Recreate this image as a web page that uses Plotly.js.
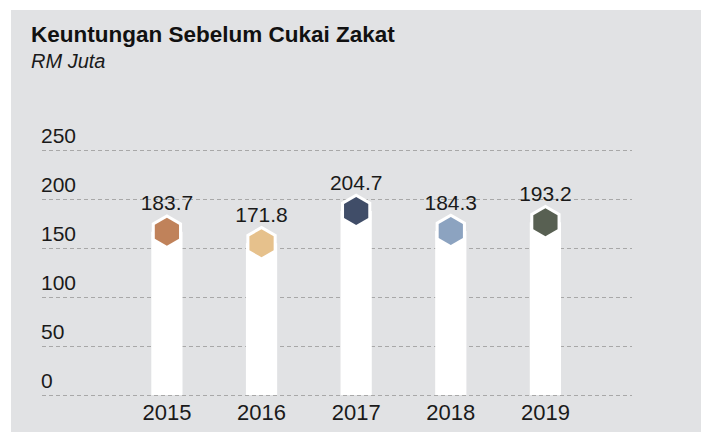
<!DOCTYPE html>
<html>
<head>
<meta charset="utf-8">
<script src="https://cdn.plot.ly/plotly-3.0.1.min.js"></script>
<style>
  html, body { margin: 0; padding: 0; background: #ffffff; }
  #chart { position: absolute; left: 11px; top: 10px; width: 690px; height: 422px; }
</style>
</head>
<body>
<div id="chart"></div>
<script>
// ---- data ----
const years = ['2015', '2016', '2017', '2018', '2019'];
const profit = [183.7, 171.8, 204.7, 184.3, 193.2];
const labels = ['183.7', '171.8', '204.7', '184.3', '193.2'];
const hexColors = ['#c0825a', '#e6c18c', '#404d68', '#8ca3c0', '#586052'];
const yTickVals = [0, 50, 100, 150, 200, 250];
const yTickText = ['0', '50', '100', '150', '200', '250'];

// ---- style ----
const HEX_OFFSET = 16.5; // hexagon centre sits below the value (data units)
const FONT = 'Liberation Sans, Arial, Helvetica, sans-serif';
const BG = '#e1e2e4';
const hexY = profit.map(v => v - HEX_OFFSET);

const traces = [
  {
    type: 'bar', x: years, y: hexY, width: 0.33,
    marker: { color: '#ffffff', line: { width: 0 } },
    hoverinfo: 'skip', showlegend: false
  },
  {
    type: 'scatter', mode: 'markers', x: years, y: hexY,
    marker: { symbol: 'hexagon', size: 35, color: '#ffffff', line: { width: 0 } },
    hoverinfo: 'skip', showlegend: false, cliponaxis: false
  },
  {
    type: 'scatter', mode: 'markers', x: years, y: hexY,
    marker: { symbol: 'hexagon', size: 28, color: hexColors, line: { width: 0 } },
    hoverinfo: 'skip', showlegend: false, cliponaxis: false
  },
  {
    type: 'scatter', mode: 'text', x: years, y: profit, text: labels,
    textposition: 'top center',
    textfont: { family: FONT, size: 21, color: '#1a1a1a' },
    hoverinfo: 'skip', showlegend: false, cliponaxis: false
  }
];

const layout = {
  width: 690, height: 422,
  margin: { l: 31, r: 69, t: 116, b: 35 },
  paper_bgcolor: BG, plot_bgcolor: BG,
  showlegend: false,
  font: { family: FONT, color: '#1a1a1a' },
  xaxis: {
    type: 'category',
    range: [-1.32, 4.915],
    showgrid: false, zeroline: false, showline: false, ticks: '',
    tickfont: { family: FONT, size: 22, color: '#1a1a1a' },
    fixedrange: true
  },
  yaxis: {
    range: [-2, 275.3],
    tickvals: yTickVals, ticktext: yTickText,
    showgrid: true, gridcolor: '#a8a8a8', gridwidth: 1, griddash: '4px,3px',
    zeroline: false, showline: false, ticks: '',
    ticklabelposition: 'inside top',
    ticklabeloverflow: 'allow',
    ticklabelstandoff: -4,
    tickfont: { family: FONT, size: 21, color: '#1a1a1a' },
    fixedrange: true
  },
  annotations: [
    {
      xref: 'paper', yref: 'paper', x: -0.0225, y: 1.3358,
      xanchor: 'left', yanchor: 'middle', showarrow: false,
      text: '<b>Keuntungan Sebelum Cukai Zakat</b>',
      font: { family: FONT, size: 22.5, color: '#111111' }
    },
    {
      xref: 'paper', yref: 'paper', x: -0.0225, y: 1.2398,
      xanchor: 'left', yanchor: 'middle', showarrow: false,
      text: '<i>RM Juta</i>',
      font: { family: FONT, size: 20, color: '#1a1a1a' }
    }
  ]
};

Plotly.newPlot('chart', traces, layout, { displayModeBar: false, staticPlot: true });
</script>
</body>
</html>
